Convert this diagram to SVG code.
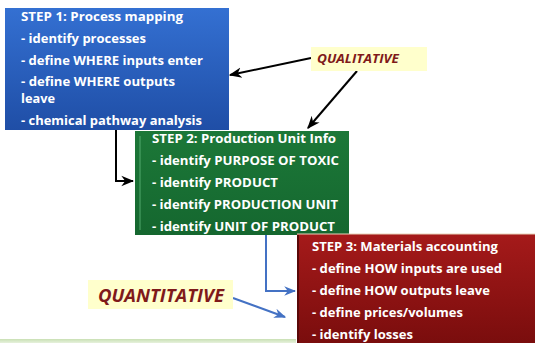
<svg xmlns="http://www.w3.org/2000/svg" width="535" height="343" viewBox="0 0 535 343">
<defs>
<linearGradient id="gBlue" x1="0" y1="0" x2="0" y2="1"><stop offset="0" stop-color="#3470d2"/><stop offset="1" stop-color="#1f4ea6"/></linearGradient>
<linearGradient id="gGreen" x1="0" y1="0" x2="0" y2="1"><stop offset="0" stop-color="#1c7838"/><stop offset="1" stop-color="#15672f"/></linearGradient>
<linearGradient id="gRed" x1="0" y1="0" x2="0" y2="1"><stop offset="0" stop-color="#a51a1a"/><stop offset="1" stop-color="#7a0d0d"/></linearGradient>
<linearGradient id="gBand" x1="0" y1="0" x2="0" y2="1"><stop offset="0" stop-color="#c9e0b4"/><stop offset="1" stop-color="#e6f1dc"/></linearGradient>
<marker id="aBlack" viewBox="0 0 10 10" refX="9" refY="5" markerWidth="6.5" markerHeight="6.5" orient="auto" markerUnits="strokeWidth"><path d="M0,1 L10,5 L0,9 L3,5 Z" fill="#000"/></marker>
<marker id="aBlue" viewBox="0 0 10 10" refX="9" refY="5" markerWidth="6" markerHeight="6" orient="auto" markerUnits="strokeWidth"><path d="M0,1 L10,5 L0,9 L3,5 Z" fill="#4472c4"/></marker>
</defs>
<style>
.t{font-family:"Open Sans","Liberation Sans",sans-serif;font-weight:bold;font-size:13px;fill:#fff}
.lab{font-family:"Open Sans","Liberation Sans",sans-serif;font-weight:bold;font-style:italic;fill:#7f1a1a}
.k{stroke:#000;stroke-width:2;fill:none}
.b{stroke:#4472c4;stroke-width:2;fill:none}
</style>
<rect x="0" y="339" width="296" height="4" fill="url(#gBand)"/>
<g id="connectors">
<polyline class="k" points="116,130 116,181 133,181" marker-end="url(#aBlack)"/>
<line class="k" x1="311" y1="58" x2="230" y2="75" marker-end="url(#aBlack)"/>
<line class="k" x1="357" y1="71" x2="308" y2="128" marker-end="url(#aBlack)"/>
<polyline class="b" points="266,235 266,291 295,291" marker-end="url(#aBlue)"/>
<line class="b" x1="233" y1="298" x2="285" y2="317" marker-end="url(#aBlue)"/>
</g>
<g id="step1">
<rect x="5" y="8" width="224" height="122" fill="url(#gBlue)"/>
<text class="t" x="21" y="21" textLength="162" lengthAdjust="spacingAndGlyphs">STEP 1: Process mapping</text>
<text class="t" x="21" y="43" textLength="125" lengthAdjust="spacingAndGlyphs">- identify processes</text>
<text class="t" x="21" y="65" textLength="182" lengthAdjust="spacingAndGlyphs">- define WHERE inputs enter</text>
<text class="t" x="21" y="86" textLength="154" lengthAdjust="spacingAndGlyphs">- define WHERE outputs</text>
<text class="t" x="21" y="103" textLength="34" lengthAdjust="spacingAndGlyphs">leave</text>
<text class="t" x="21" y="125" textLength="181" lengthAdjust="spacingAndGlyphs">- chemical pathway analysis</text>
</g>
<g id="step2">
<rect x="135" y="131" width="214" height="104" fill="url(#gGreen)"/>
<line x1="140" y1="136" x2="140" y2="230" stroke="#5fb57a" stroke-width="1.2" opacity="0.7"/>
<text class="t" x="152" y="143" textLength="184" lengthAdjust="spacingAndGlyphs">STEP 2: Production Unit Info</text>
<text class="t" x="152" y="165" textLength="187" lengthAdjust="spacingAndGlyphs">- identify PURPOSE OF TOXIC</text>
<text class="t" x="152" y="187" textLength="126" lengthAdjust="spacingAndGlyphs">- identify PRODUCT</text>
<text class="t" x="152" y="209" textLength="186" lengthAdjust="spacingAndGlyphs">- identify PRODUCTION UNIT</text>
<text class="t" x="152" y="231" textLength="183" lengthAdjust="spacingAndGlyphs">- identify UNIT OF PRODUCT</text>
</g>
<g id="step3">
<rect x="297" y="234" width="238" height="109" fill="url(#gRed)"/>
<line x1="297" y1="234" x2="535" y2="234" stroke="#e8d2b8" stroke-width="1"/>
<line x1="298" y1="235" x2="298" y2="343" stroke="#5a0808" stroke-width="2"/>
<text class="t" x="312" y="251" textLength="186" lengthAdjust="spacingAndGlyphs">STEP 3: Materials accounting</text>
<text class="t" x="312" y="273" textLength="190" lengthAdjust="spacingAndGlyphs">- define HOW inputs are used</text>
<text class="t" x="312" y="295" textLength="178" lengthAdjust="spacingAndGlyphs">- define HOW outputs leave</text>
<text class="t" x="312" y="317" textLength="151" lengthAdjust="spacingAndGlyphs">- define prices/volumes</text>
<text class="t" x="312" y="339" textLength="101" lengthAdjust="spacingAndGlyphs">- identify losses</text>
</g>
<g id="qualitative">
<rect x="311" y="47" width="116" height="24" fill="#ffffcc"/>
<text class="lab" x="317" y="63" font-size="13" textLength="82" lengthAdjust="spacingAndGlyphs">QUALITATIVE</text>
</g>
<g id="quantitative">
<rect x="88" y="280" width="145" height="29" fill="#ffffcc"/>
<text class="lab" x="98" y="302" font-size="18" textLength="126" lengthAdjust="spacingAndGlyphs">QUANTITATIVE</text>
</g>
</svg>
